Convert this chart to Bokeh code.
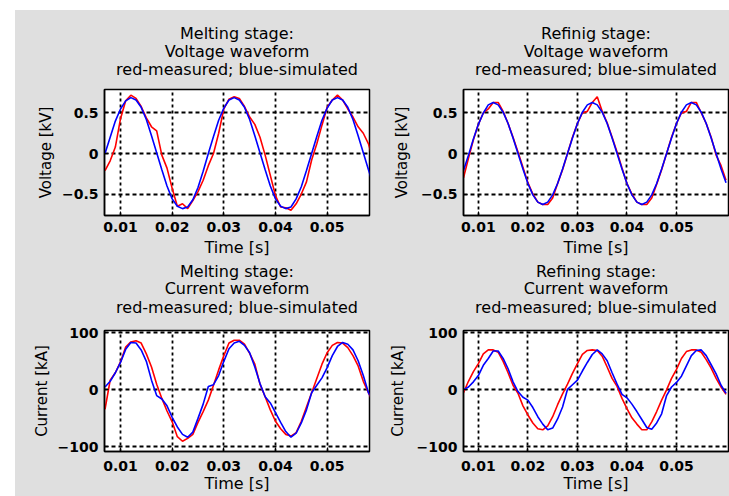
from bokeh.plotting import figure
from bokeh.models import Title, Range1d, FixedTicker, Spacer, LinearAxis
from bokeh.layouts import row, column
from bokeh.embed import file_html
from bokeh.resources import INLINE

# ---------------- data ----------------
time_s = [0.007, 0.008, 0.009, 0.010, 0.011, 0.012, 0.013, 0.014, 0.015, 0.016,
          0.017, 0.018, 0.019, 0.020, 0.021, 0.022, 0.023, 0.024, 0.025, 0.026,
          0.027, 0.028, 0.029, 0.030, 0.031, 0.032, 0.033, 0.034, 0.035, 0.036,
          0.037, 0.038, 0.039, 0.040, 0.041, 0.042, 0.043, 0.044, 0.045, 0.046,
          0.047, 0.048, 0.049, 0.050, 0.051, 0.052, 0.053, 0.054, 0.055, 0.056,
          0.057, 0.058, 0.059, 0.060]

# Melting stage voltage [kV]
melt_v_measured = [-0.21, -0.09, 0.08, 0.43, 0.65, 0.72, 0.68, 0.58, 0.44, 0.33,
                   0.28, -0.02, -0.18, -0.43, -0.65, -0.62, -0.68, -0.58, -0.47, -0.33,
                   -0.15, 0.00, 0.25, 0.55, 0.67, 0.70, 0.68, 0.58, 0.45, 0.36,
                   0.20, -0.02, -0.27, -0.52, -0.66, -0.67, -0.70, -0.62, -0.50, -0.35,
                   -0.08, 0.12, 0.35, 0.57, 0.66, 0.72, 0.66, 0.55, 0.45, 0.33,
                   0.25, 0.12, -0.10, -0.30]
melt_v_simulated = [0.00, 0.20, 0.40, 0.55, 0.65, 0.69, 0.66, 0.57, 0.42, 0.22,
                    0.01, -0.20, -0.40, -0.56, -0.65, -0.68, -0.66, -0.57, -0.42, -0.22,
                    0.00, 0.21, 0.41, 0.56, 0.66, 0.69, 0.66, 0.57, 0.42, 0.22,
                    0.01, -0.20, -0.40, -0.56, -0.65, -0.68, -0.66, -0.56, -0.41, -0.21,
                    0.00, 0.21, 0.41, 0.56, 0.66, 0.69, 0.66, 0.57, 0.42, 0.22,
                    0.01, -0.20, -0.40, -0.55]

# Refining stage voltage [kV]
refi_v_measured = [-0.30, -0.06, 0.17, 0.36, 0.50, 0.55, 0.63, 0.63, 0.52, 0.37,
                   0.20, 0.02, -0.17, -0.36, -0.50, -0.60, -0.63, -0.63, -0.55, -0.37,
                   -0.20, 0.00, 0.20, 0.37, 0.50, 0.52, 0.63, 0.70, 0.52, 0.38,
                   0.20, 0.02, -0.18, -0.37, -0.50, -0.60, -0.63, -0.63, -0.55, -0.38,
                   -0.20, 0.00, 0.20, 0.37, 0.50, 0.52, 0.63, 0.63, 0.50, 0.37,
                   0.20, -0.02, -0.15, -0.33]
refi_v_simulated = [-0.21, -0.02, 0.18, 0.36, 0.50, 0.60, 0.63, 0.60, 0.51, 0.37,
                    0.19, 0.00, -0.19, -0.37, -0.51, -0.60, -0.63, -0.60, -0.51, -0.37,
                    -0.19, 0.00, 0.19, 0.37, 0.51, 0.60, 0.63, 0.60, 0.51, 0.37,
                    0.19, 0.00, -0.19, -0.37, -0.51, -0.60, -0.63, -0.60, -0.51, -0.37,
                    -0.19, 0.00, 0.19, 0.37, 0.51, 0.60, 0.63, 0.60, 0.51, 0.37,
                    0.19, 0.00, -0.19, -0.36]

# Melting stage current [kA]
melt_i_measured = [-34, 17, 30, 49, 75, 84, 86, 82, 63, 40,
                   10, -15, -37, -56, -82, -90, -85, -78, -57, -38,
                   -18, 8, 35, 60, 82, 87, 87, 80, 64, 45,
                   10, -12, -35, -55, -68, -78, -81, -75, -55, -30,
                   -5, 20, 45, 65, 78, 83, 82, 74, 60, 42,
                   15, -5, -25, -45]
melt_i_simulated = [5, 15, 30, 48, 71, 83, 82, 70, 50, 17,
                    -10, -16, -28, -48, -65, -78, -83, -74, -50, -25,
                    6, 9, 25, 50, 72, 82, 85, 78, 65, 40,
                    11, -12, -23, -40, -57, -73, -83, -76, -58, -35,
                    -5, 8, 21, 39, 60, 76, 83, 80, 70, 51,
                    25, -5, -20, -35]

# Refining stage current [kA]
refi_i_measured = [-5, 15, 32, 46, 63, 70, 70, 66, 50, 30,
                   8, -6, -28, -44, -58, -68, -70, -63, -47, -26,
                   -7, 10, 29, 46, 62, 69, 70, 69, 59, 40,
                   20, 6, -15, -33, -49, -60, -70, -70, -56, -38,
                   -18, 0, 20, 36, 55, 67, 70, 70, 66, 53,
                   38, 20, 5, -8]
refi_i_simulated = [0, 5, 14, 25, 43, 55, 68, 68, 55, 37,
                    14, -3, -13, -18, -31, -47, -60, -70, -67, -51,
                    -30, 1, 9, 17, 33, 48, 62, 70, 63, 51,
                    30, 10, -8, -14, -25, -38, -52, -66, -69, -58,
                    -42, -10, 5, 13, 24, 42, 60, 69, 70, 60,
                    44, 28, 8, -6]

time_ticks = [0.01, 0.02, 0.03, 0.04, 0.05]
time_tick_labels = ["0.01", "0.02", "0.03", "0.04", "0.05"]
volt_ticks = [-0.5, 0, 0.5]
volt_tick_labels = ["\u22120.5", "0", "0.5"]
curr_ticks = [-100, 0, 100]
curr_tick_labels = ["\u2212100", "0", "100"]
x_label = "Time [s]"

titles = [
    ["Melting stage:", "Voltage waveform", "red-measured; blue-simulated"],
    ["Refinig stage:", "Voltage waveform", "red-measured; blue-simulated"],
    ["Melting stage:", "Current waveform", "red-measured; blue-simulated"],
    ["Refining stage:", "Current waveform", "red-measured; blue-simulated"],
]

BG = "#dfdfdf"
FONT = "DejaVu Sans"


def style_title(t):
    t.text_font = FONT
    t.text_font_size = "16px"
    t.text_font_style = "normal"
    t.text_color = "black"
    t.align = "center"


def caption_axis(text, standoff):
    # an axis above the frame that only carries one centred caption line
    return LinearAxis(ticker=FixedTicker(ticks=[]), axis_label=text,
                      axis_label_standoff=standoff, axis_label_text_font=FONT,
                      axis_label_text_font_size="16px", axis_label_text_font_style="normal",
                      axis_label_text_color="black", axis_line_color=None,
                      major_tick_line_color=None, minor_tick_line_color=None,
                      major_tick_in=0, major_tick_out=0, minor_tick_in=0, minor_tick_out=0,
                      major_label_standoff=0)


def panel(title_lines, x_rng, y_rng, y_ticks, y_labels, y_label, measured, simulated,
          width, height, bl, br, bt, bb, so_line3, so_line2, so_line1, ylab_standoff,
          xtick_standoff, xlab_mode, xlab_so):
    p = figure(width=width, height=height, output_backend="svg", toolbar_location=None,
               x_range=Range1d(*x_rng), y_range=Range1d(*y_rng),
               min_border_left=bl, min_border_right=br, min_border_top=bt, min_border_bottom=bb,
               background_fill_color="white", border_fill_color=BG)
    xa = p.below[0]
    ya = p.left[0]
    # title block: line 3 nearest the frame, line 1 outermost
    p.add_layout(caption_axis(title_lines[2], so_line3), "above")
    p.add_layout(caption_axis(title_lines[1], so_line2), "above")
    p.title.text = title_lines[0]
    style_title(p.title)
    p.title.standoff = so_line1

    p.line(time_s, measured, line_color="#ff0000", line_width=1.6)
    p.line(time_s, simulated, line_color="#0000ff", line_width=1.6)

    xa.ticker = FixedTicker(ticks=time_ticks)
    xa.major_label_overrides = dict(zip(time_ticks, time_tick_labels))
    ya.ticker = FixedTicker(ticks=y_ticks)
    ya.major_label_overrides = dict(zip(y_ticks, y_labels))
    ya.axis_label = y_label
    for ax in (xa, ya):
        ax.axis_line_color = "black"
        ax.axis_line_width = 1.5
        ax.major_tick_in = 4
        ax.major_tick_out = 0
        ax.minor_tick_line_color = None
        ax.major_tick_line_color = "black"
        ax.major_label_text_font = FONT
        ax.major_label_text_font_size = "14px"
        ax.major_label_text_font_style = "bold"
        ax.major_label_text_color = "black"
        ax.axis_label_text_font = FONT
        ax.axis_label_text_font_style = "normal"
        ax.axis_label_text_color = "black"
    xa.major_label_standoff = xtick_standoff
    ya.major_label_standoff = 6
    ya.axis_label_standoff = ylab_standoff
    ya.axis_label_text_font_size = "15px"

    if xlab_mode == "axis":
        xa.axis_label = x_label
        xa.axis_label_text_font_size = "16px"
        xa.axis_label_standoff = xlab_so
    else:
        xl = Title(text=x_label)
        style_title(xl)
        xl.standoff = xlab_so
        p.add_layout(xl, "below")

    p.xgrid.ticker = FixedTicker(ticks=time_ticks)
    p.ygrid.ticker = FixedTicker(ticks=y_ticks)
    p.xgrid.grid_line_color = "black"
    p.xgrid.grid_line_dash = "3 3"
    p.xgrid.grid_line_width = 1.8
    p.ygrid.grid_line_color = "black"
    p.ygrid.grid_line_dash = "4 3"
    p.ygrid.grid_line_width = 1.8
    p.outline_line_color = "black"
    p.outline_line_width = 1.5
    p.outline_line_alpha = 1.0
    return p


p1 = panel(titles[0], (0.0069, 0.0582), (-0.765, 0.79), volt_ticks, volt_tick_labels,
           "Voltage [kV]", melt_v_measured, melt_v_simulated, 365, 250, 89, 11, 79, 45,
           11, -4, -8, 4, 6, "axis", 3)
p2 = panel(titles[1], (0.007, 0.0605), (-0.765, 0.79), volt_ticks, volt_tick_labels,
           "Voltage [kV]", refi_v_measured, refi_v_simulated, 349, 250, 83, 1, 79, 45,
           11, -4, -8, 7, 6, "axis", 3)
p3 = panel(titles[2], (0.0069, 0.0582), (-108, 104), curr_ticks, curr_tick_labels,
           "Current [kA]", melt_i_measured, melt_i_simulated, 365, 236, 89, 11, 70, 45,
           14, -3, -10, 4, 9, "title", -3)
p4 = panel(titles[3], (0.007, 0.0605), (-108, 104), curr_ticks, curr_tick_labels,
           "Current [kA]", refi_i_measured, refi_i_simulated, 349, 236, 83, 1, 70, 45,
           14, -3, -10, 7, 9, "title", -3)

white = {"background-color": "white"}
gray = {"background-color": BG}
layout = column(
    Spacer(width=729, height=10, styles=white),
    row(Spacer(width=15, height=250, styles=white), p1, p2, styles=gray),
    row(Spacer(width=15, height=236, styles=white), p3, p4, styles=gray),
    styles=gray,
)

open("out.html", "w").write(file_html(layout, INLINE))
